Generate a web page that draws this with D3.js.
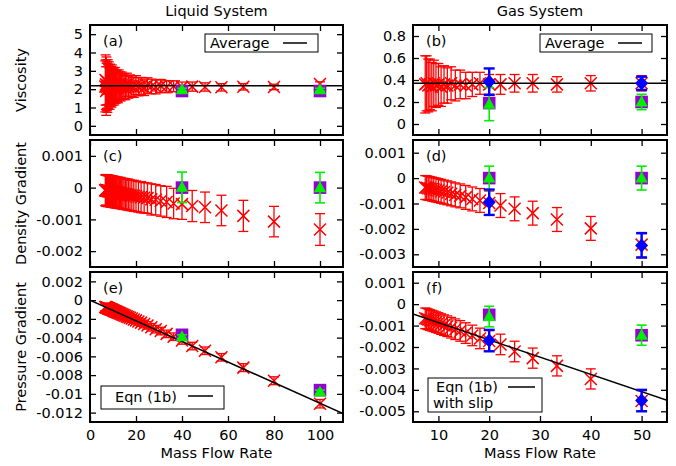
<!DOCTYPE html>
<html><head><meta charset="utf-8">
<script src="https://cdn.jsdelivr.net/npm/d3@7"></script>
<style>body{margin:0;background:#fff}svg{display:block}text{font-family:"DejaVu Sans",sans-serif}</style>
</head><body><svg id="c" width="676" height="466"></svg>
<script>
// ---------- Liquid system ----------
const liqX = [100, 80, 66.67, 57.14, 50, 44.44, 40, 36.36, 33.33, 30.77, 28.57, 26.67, 25, 23.53, 22.22, 21.05, 20, 19.05, 18.18, 17.39, 16.67, 16, 15.38, 14.81, 14.29, 13.79, 13.33, 12.9, 12.5, 12.12, 11.76, 11.43, 11.11, 10.81, 10.53, 10.26, 10, 9.76, 9.52, 9.3, 9.09, 8.89, 8.7, 8.51, 8.33, 8.16, 8, 7.84, 7.69, 7.55, 7.41, 7.27, 7.14, 7.02, 6.9, 6.78, 6.67];
const liqVisc = [2.28, 2.12, 2.13, 2.1, 2.12, 2.14, 2.11, 2.16, 2.13, 2.18, 2.12, 2.15, 2.2, 2.1, 2.17, 2.13, 2.22, 2.09, 2.16, 2.19, 2.12, 2.24, 2.08, 2.17, 2.14, 2.21, 2.1, 2.18, 2.26, 2.07, 2.15, 2.2, 2.11, 2.28, 2.06, 2.17, 2.23, 2.1, 2.31, 2.05, 2.19, 2.14, 2.27, 2.02, 2.2, 2.33, 2.08, 2.16, 2.38, 1.98, 2.22, 2.12, 2.45, 1.9, 2.25, 2.5, 2.15];
const liqViscErr = [0.12, 0.15, 0.175, 0.2, 0.227, 0.25, 0.277, 0.3, 0.327, 0.35, 0.375, 0.4, 0.423, 0.447, 0.47, 0.494, 0.517, 0.54, 0.564, 0.587, 0.61, 0.632, 0.655, 0.678, 0.7, 0.723, 0.745, 0.768, 0.79, 0.812, 0.834, 0.856, 0.878, 0.9, 0.92, 0.943, 0.965, 0.987, 1.01, 1.03, 1.05, 1.073, 1.094, 1.116, 1.138, 1.16, 1.18, 1.2, 1.223, 1.243, 1.264, 1.286, 1.307, 1.327, 1.348, 1.37, 1.39];
const liqDens = [-0.00132, -0.00107, -0.00089, -0.00072, -0.00062, -0.00058, -0.00052, -0.0005, -0.00045, -0.00042, -0.00038, -0.00037, -0.00033, -0.00032, -0.0003, -0.00029, -0.00027, -0.00026, -0.00025, -0.00024, -0.00022, -0.00022, -0.0002, -0.0002, -0.00019, -0.00019, -0.00017, -0.00018, -0.00016, -0.00016, -0.00015, -0.00016, -0.00014, -0.00015, -0.00013, -0.00014, -0.00012, -0.00013, -0.00012, -0.00013, -0.00011, -0.00012, -0.0001, -0.00012, -0.0001, -0.00011, -0.00009, -0.00011, -0.00009, -0.0001, -0.00008, -0.0001, -0.00008, -0.00009, -0.00007, -0.00009, -0.00008];
const liqDensErr = [0.0005, 0.00048, 0.00049, 0.00048, 0.00048, 0.00049, 0.00048, 0.00048, 0.00049, 0.00048, 0.00048, 0.00049, 0.00048, 0.00048, 0.00049, 0.00048, 0.00048, 0.00049, 0.00048, 0.00048, 0.00049, 0.00048, 0.00048, 0.00049, 0.00048, 0.00048, 0.00049, 0.00048, 0.00048, 0.00049, 0.00048, 0.00048, 0.00049, 0.00048, 0.00048, 0.00049, 0.00048, 0.00048, 0.00049, 0.00048, 0.00048, 0.00049, 0.00048, 0.00048, 0.00049, 0.00048, 0.00048, 0.00049, 0.00048, 0.00048, 0.00049, 0.00048, 0.00048, 0.00049, 0.00048, 0.00048, 0.00049];
const liqPres = [-0.01105, -0.0086, -0.0072, -0.0061, -0.0054, -0.0049, -0.0043, -0.0039, -0.0036, -0.0033, -0.0031, -0.0029, -0.0027, -0.00255, -0.0024, -0.00228, -0.00216, -0.00206, -0.00197, -0.00189, -0.00181, -0.00174, -0.00167, -0.00161, -0.00156, -0.0015, -0.00145, -0.00141, -0.00136, -0.00132, -0.00128, -0.00125, -0.00121, -0.00118, -0.00115, -0.00112, -0.00109, -0.00106, -0.00104, -0.00101, -0.00099, -0.00097, -0.00095, -0.00093, -0.00091, -0.00089, -0.00087, -0.00086, -0.00084, -0.00082, -0.00081, -0.00079, -0.00078, -0.00077, -0.00075, -0.00074, -0.00073];
const liqPresErr = [0.00045, 0.00042, 0.00042, 0.0004, 0.0004, 0.0004, 0.0004, 0.0004, 0.0004, 0.0004, 0.0004, 0.0004, 0.0004, 0.0004, 0.0004, 0.0004, 0.0004, 0.0004, 0.0004, 0.0004, 0.0004, 0.0004, 0.0004, 0.0004, 0.0004, 0.0004, 0.0004, 0.0004, 0.0004, 0.0004, 0.0004, 0.0004, 0.0004, 0.0004, 0.0004, 0.0004, 0.0004, 0.0004, 0.0004, 0.0004, 0.0004, 0.0004, 0.0004, 0.0004, 0.0004, 0.0004, 0.0004, 0.0004, 0.0004, 0.0004, 0.0004, 0.0004, 0.0004, 0.0004, 0.0004, 0.0004, 0.0004];
const liqAverage = 2.18;
const liqEqnX = [0, 110];
const liqEqnY = [0, -0.0121];
// special liquid points (squares, triangles)
const liqSpX = [40, 100];
const liqSqVisc = [1.9, 1.9], liqTriVisc = [1.97, 1.97], liqTriViscErr = [0.08, 0.08];
const liqSqDens = [0, 0], liqTriDens = [0.00001, 0], liqTriDensErr = [0.00048, 0.00048];
const liqSqPres = [-0.0037, -0.0096], liqTriPres = [-0.0039, -0.0098], liqTriPresErr = [0.0002, 0.0002];

// ---------- Gas system ----------
const gasX = [50, 40, 33.33, 28.57, 25, 22.22, 20, 18.18, 16.67, 15.38, 14.29, 13.33, 12.5, 11.76, 11.11, 10.53, 10, 9.52, 9.09, 8.7, 8.33, 8, 7.69, 7.41];
const gasVisc = [0.37, 0.37, 0.36, 0.37, 0.37, 0.36, 0.36, 0.37, 0.36, 0.35, 0.36, 0.35, 0.37, 0.35, 0.36, 0.34, 0.36, 0.35, 0.37, 0.34, 0.36, 0.35, 0.37, 0.36];
const gasViscErr = [0.07, 0.07, 0.07, 0.08, 0.08, 0.09, 0.09, 0.1, 0.11, 0.12, 0.13, 0.14, 0.15, 0.16, 0.17, 0.18, 0.19, 0.2, 0.21, 0.22, 0.23, 0.24, 0.25, 0.26];
const gasDens = [-0.00262, -0.00198, -0.00163, -0.00138, -0.00121, -0.00108, -0.00098, -0.00088, -0.00082, -0.00076, -0.0007, -0.00066, -0.00062, -0.00058, -0.00055, -0.00052, -0.00049, -0.00047, -0.00045, -0.00043, -0.00041, -0.0004, -0.00038, -0.00037];
const gasDensErr = [0.00048, 0.00047, 0.00047, 0.00047, 0.00047, 0.00047, 0.00047, 0.00047, 0.00047, 0.00047, 0.00047, 0.00047, 0.00047, 0.00047, 0.00047, 0.00047, 0.00047, 0.00047, 0.00047, 0.00047, 0.00047, 0.00047, 0.00047, 0.00047];
const gasPres = [-0.00452, -0.00349, -0.00288, -0.00252, -0.00221, -0.00188, -0.00172, -0.0016, -0.00146, -0.00135, -0.00125, -0.00117, -0.0011, -0.00103, -0.00098, -0.00093, -0.00088, -0.00084, -0.0008, -0.00077, -0.00074, -0.00071, -0.00068, -0.00066];
const gasPresErr = [0.00048, 0.00047, 0.00047, 0.00047, 0.00048, 0.00048, 0.00048, 0.00048, 0.00048, 0.00048, 0.00048, 0.00048, 0.00048, 0.00048, 0.00048, 0.00048, 0.00048, 0.00048, 0.00048, 0.00048, 0.00048, 0.00048, 0.00048, 0.00048];
const gasAverage = 0.37;
const gasEqnX = [5, 55];
const gasEqnY = [-0.00046, -0.00449];
const gasSpX = [20, 50];
const gasSqVisc = [0.19, 0.2], gasTriVisc = [0.18, 0.2], gasTriViscErr = [0.15, 0.07];
const gasDiaVisc = [0.385, 0.37], gasDiaViscErr = [0.12, 0.06];
const gasSqDens = [0, 0], gasTriDens = [0, 0], gasTriDensErr = [0.00047, 0.00047];
const gasDiaDens = [-0.00095, -0.00265], gasDiaDensErr = [0.0005, 0.00048];
const gasSqPres = [-0.0005, -0.00145], gasTriPres = [-0.00058, -0.00145], gasTriPresErr = [0.00048, 0.00047];
const gasDiaPres = [-0.0017, -0.0045], gasDiaPresErr = [0.0005, 0.0005];

// ---------- Tick labels ----------
const liqXTicks = [0, 20, 40, 60, 80, 100];
const gasXTicks = [10, 20, 30, 40, 50];
const aTicks = [0, 1, 2, 3, 4, 5], aLabels = ["0", "1", "2", "3", "4", "5"];
const bTicks = [0, 0.2, 0.4, 0.6, 0.8], bLabels = ["0", "0.2", "0.4", "0.6", "0.8"];
const cTicks = [0.001, 0, -0.001, -0.002], cLabels = ["0.001", "0", "-0.001", "-0.002"];
const dTicks = [0.001, 0, -0.001, -0.002, -0.003], dLabels = ["0.001", "0", "-0.001", "-0.002", "-0.003"];
const eTicks = [0.002, 0, -0.002, -0.004, -0.006, -0.008, -0.01, -0.012], eLabels = ["0.002", "0", "-0.002", "-0.004", "-0.006", "-0.008", "-0.01", "-0.012"];
const fTicks = [0.001, 0, -0.001, -0.002, -0.003, -0.004, -0.005], fLabels = ["0.001", "0", "-0.001", "-0.002", "-0.003", "-0.004", "-0.005"];

// ---------- Layout ----------
const svg = d3.select("#c");
const FS = 14.5;
const RED = "#ff0000", PURPLE = "#9400d3", GREEN = "#00ee00", BLUE = "#0000ff";
const colL = {x0: 90, x1: 343, domain: [0, 110], ticks: liqXTicks};
const colR = {x0: 413, x1: 667, domain: [5, 55], ticks: gasXTicks};
const rows = [{y0: 25, y1: 135}, {y0: 140, y1: 267}, {y0: 272, y1: 422}];
let clipN = 0;

function errBar(g, x, y, xv, v, e, color, w, cap) {
  const X = x(xv), y1 = y(v - e), y2 = y(v + e);
  g.append("line").attr("x1", X).attr("x2", X).attr("y1", y1).attr("y2", y2).attr("stroke", color).attr("stroke-width", w);
  [y1, y2].forEach(yy => g.append("line").attr("x1", X - cap).attr("x2", X + cap).attr("y1", yy).attr("y2", yy).attr("stroke", color).attr("stroke-width", w));
}

function panel(o) {
  const col = o.col, row = o.row;
  const x = d3.scaleLinear().domain(col.domain).range([col.x0, col.x1]);
  const y = d3.scaleLinear().domain(o.yDomain).range([row.y1, row.y0]);
  const id = "clip" + (clipN++);
  svg.append("clipPath").attr("id", id).append("rect")
    .attr("x", col.x0).attr("y", row.y0).attr("width", col.x1 - col.x0).attr("height", row.y1 - row.y0);
  const style = g => {
    g.attr("font-family", "DejaVu Sans, sans-serif").attr("font-size", FS);
    g.select(".domain").remove();
    g.selectAll(".tick line").attr("stroke", "#000").attr("stroke-width", 1.3);
    g.selectAll("text").attr("fill", "#000");
  };
  svg.append("g").attr("transform", `translate(${col.x0},0)`)
    .call(d3.axisLeft(y).tickValues(o.yTicks).tickFormat((d, i) => o.yLabels[i]).tickSizeInner(-6).tickSizeOuter(0).tickPadding(7)).call(style);
  svg.append("g").attr("transform", `translate(${col.x1},0)`)
    .call(d3.axisRight(y).tickValues(o.yTicks).tickFormat("").tickSizeInner(-6).tickSizeOuter(0)).call(style);
  svg.append("g").attr("transform", `translate(0,${row.y0})`)
    .call(d3.axisTop(x).tickValues(col.ticks).tickFormat("").tickSizeInner(-6).tickSizeOuter(0)).call(style);
  svg.append("g").attr("transform", `translate(0,${row.y1})`)
    .call(d3.axisBottom(x).tickValues(col.ticks).tickFormat(o.xLabels ? d3.format("d") : "").tickSizeInner(-6).tickSizeOuter(0).tickPadding(8)).call(style);

  const g = svg.append("g").attr("clip-path", `url(#${id})`);
  // red data with error bars and crosses
  o.rx.forEach((xv, i) => {
    errBar(g, x, y, xv, o.rv[i], o.re[i], RED, 1.3, 5);
  });
  o.rx.forEach((xv, i) => {
    const X = x(xv), Y = y(o.rv[i]), s = 6;
    g.append("path").attr("d", `M${X - s},${Y - s}L${X + s},${Y + s}M${X - s},${Y + s}L${X + s},${Y - s}`)
      .attr("stroke", RED).attr("stroke-width", 1.5).attr("fill", "none");
  });
  // reference line
  if (o.lineX) {
    g.append("line").attr("x1", x(o.lineX[0])).attr("x2", x(o.lineX[1]))
      .attr("y1", y(o.lineY[0])).attr("y2", y(o.lineY[1])).attr("stroke", "#000").attr("stroke-width", 1.5);
  }
  // purple squares
  o.sx.forEach((xv, i) => {
    const X = x(xv), Y = y(o.sq[i]);
    g.append("rect").attr("x", X - 6.3).attr("y", Y - 6.3).attr("width", 12.6).attr("height", 12.6).attr("fill", PURPLE);
  });
  // green triangles
  o.sx.forEach((xv, i) => {
    errBar(g, x, y, xv, o.tr[i], o.te[i], GREEN, 1.6, 5);
    const X = x(xv), Y = y(o.tr[i]);
    g.append("path").attr("d", `M${X - 6.2},${Y + 4.5}L${X + 6.2},${Y + 4.5}L${X},${Y - 6.5}Z`).attr("fill", GREEN);
  });
  // blue diamonds
  if (o.dv) {
    o.sx.forEach((xv, i) => {
      errBar(g, x, y, xv, o.dv[i], o.de[i], BLUE, 2.4, 5.5);
      const X = x(xv), Y = y(o.dv[i]);
      g.append("path").attr("d", `M${X},${Y - 7}L${X + 6.5},${Y}L${X},${Y + 7}L${X - 6.5},${Y}Z`).attr("fill", BLUE);
    });
  }
  // frame
  svg.append("rect").attr("x", col.x0).attr("y", row.y0).attr("width", col.x1 - col.x0).attr("height", row.y1 - row.y0)
    .attr("fill", "none").attr("stroke", "#000").attr("stroke-width", 2);
  // panel label
  svg.append("text").attr("x", col.x0 + 13).attr("y", row.y0 + 21).attr("font-size", FS).text(o.label);
  // legend
  if (o.legend) {
    const L = o.legend;
    svg.append("rect").attr("x", L.x).attr("y", L.y).attr("width", L.w).attr("height", L.h)
      .attr("fill", "#fff").attr("stroke", "#000").attr("stroke-width", 1);
    L.lines.forEach((t, k) => svg.append("text").attr("x", L.tx[k]).attr("y", L.ty[k]).attr("font-size", FS).text(t));
    svg.append("line").attr("x1", L.lx[0]).attr("x2", L.lx[1]).attr("y1", L.ly).attr("y2", L.ly)
      .attr("stroke", "#000").attr("stroke-width", 1.5);
  }
}

panel({col: colL, row: rows[0], yDomain: [-0.5, 5.5], yTicks: aTicks, yLabels: aLabels, label: "(a)",
  rx: liqX, rv: liqVisc, re: liqViscErr, lineX: [0, 110], lineY: [liqAverage, liqAverage],
  sx: liqSpX, sq: liqSqVisc, tr: liqTriVisc, te: liqTriViscErr,
  legend: {x: 205, y: 34, w: 113, h: 18, lines: ["Average"], tx: [210], ty: [48], lx: [283, 307], ly: 43}});
panel({col: colR, row: rows[0], yDomain: [-0.1, 0.9], yTicks: bTicks, yLabels: bLabels, label: "(b)",
  rx: gasX, rv: gasVisc, re: gasViscErr, lineX: [5, 55], lineY: [gasAverage, gasAverage],
  sx: gasSpX, sq: gasSqVisc, tr: gasTriVisc, te: gasTriViscErr, dv: gasDiaVisc, de: gasDiaViscErr,
  legend: {x: 540, y: 34, w: 112, h: 18, lines: ["Average"], tx: [545], ty: [48], lx: [618, 642], ly: 43}});
panel({col: colL, row: rows[1], yDomain: [-0.0025, 0.0015], yTicks: cTicks, yLabels: cLabels, label: "(c)",
  rx: liqX, rv: liqDens, re: liqDensErr,
  sx: liqSpX, sq: liqSqDens, tr: liqTriDens, te: liqTriDensErr});
panel({col: colR, row: rows[1], yDomain: [-0.0035, 0.0015], yTicks: dTicks, yLabels: dLabels, label: "(d)",
  rx: gasX, rv: gasDens, re: gasDensErr,
  sx: gasSpX, sq: gasSqDens, tr: gasTriDens, te: gasTriDensErr, dv: gasDiaDens, de: gasDiaDensErr});
panel({col: colL, row: rows[2], yDomain: [-0.013, 0.003], yTicks: eTicks, yLabels: eLabels, label: "(e)", xLabels: true,
  rx: liqX, rv: liqPres, re: liqPresErr, lineX: liqEqnX, lineY: liqEqnY,
  sx: liqSpX, sq: liqSqPres, tr: liqTriPres, te: liqTriPresErr,
  legend: {x: 101, y: 386, w: 123, h: 23, lines: ["Eqn (1b)"], tx: [115], ty: [402], lx: [188, 213], ly: 396}});
panel({col: colR, row: rows[2], yDomain: [-0.0055, 0.0015], yTicks: fTicks, yLabels: fLabels, label: "(f)", xLabels: true,
  rx: gasX, rv: gasPres, re: gasPresErr, lineX: gasEqnX, lineY: gasEqnY,
  sx: gasSpX, sq: gasSqPres, tr: gasTriPres, te: gasTriPresErr, dv: gasDiaPres, de: gasDiaPresErr,
  legend: {x: 428, y: 378, w: 114, h: 34, lines: ["Eqn (1b)", "with slip"], tx: [436, 433], ty: [392, 408], lx: [508, 535], ly: 387}});

// titles and axis labels
svg.append("text").attr("x", 216.5).attr("y", 16).attr("text-anchor", "middle").attr("font-size", FS).text("Liquid System");
svg.append("text").attr("x", 540).attr("y", 16).attr("text-anchor", "middle").attr("font-size", FS).text("Gas System");
svg.append("text").attr("x", 216.5).attr("y", 458).attr("text-anchor", "middle").attr("font-size", FS).text("Mass Flow Rate");
svg.append("text").attr("x", 540).attr("y", 458).attr("text-anchor", "middle").attr("font-size", FS).text("Mass Flow Rate");
[["Viscosity", rows[0]], ["Density Gradient", rows[1]], ["Pressure Gradient", rows[2]]].forEach(([t, r]) => {
  const cy = (r.y0 + r.y1) / 2;
  svg.append("text").attr("transform", `translate(26,${cy}) rotate(-90)`).attr("text-anchor", "middle").attr("font-size", FS).text(t);
});
</script></body></html>
